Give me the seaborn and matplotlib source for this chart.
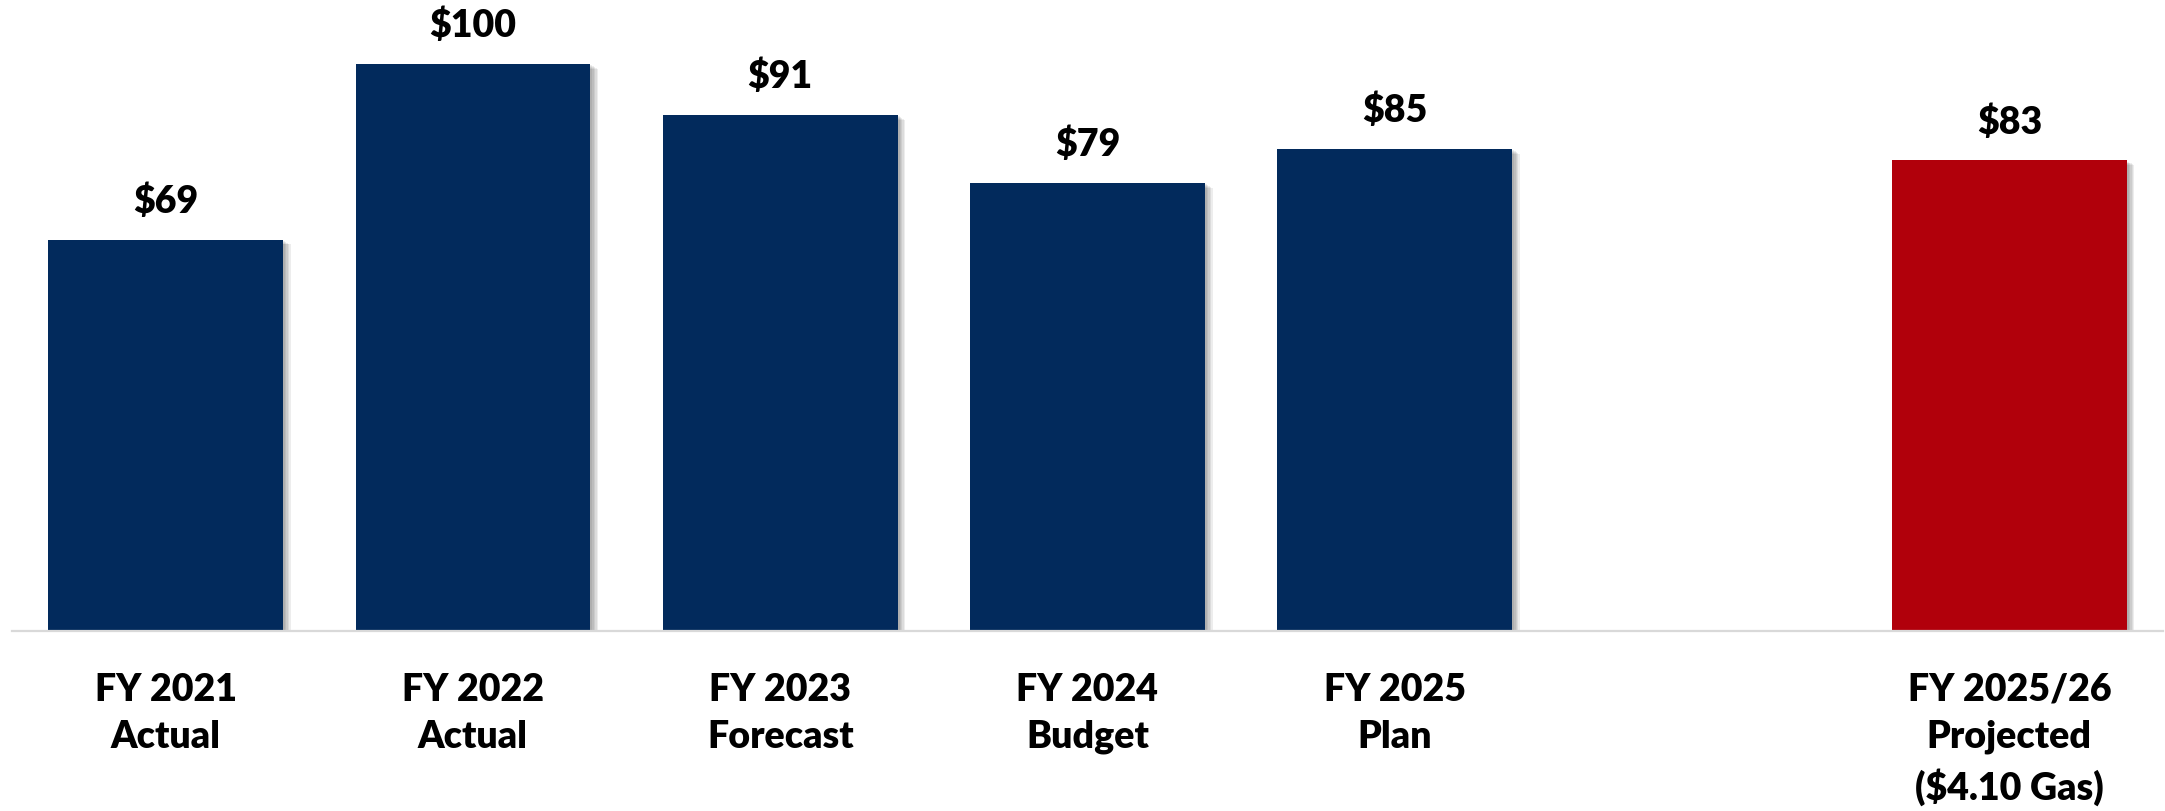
import matplotlib
matplotlib.use("Agg")
import matplotlib.pyplot as plt
import matplotlib.patheffects as pe
import seaborn as sns
import pandas as pd

# Fiscal-year values (USD)
categories = ["FY 2021\nActual", "FY 2022\nActual", "FY 2023\nForecast",
              "FY 2024\nBudget", "FY 2025\nPlan", "FY 2025/26\nProjected\n($4.10 Gas)"]
values = [69, 100, 91, 79, 85, 83]
slot_order = categories[:5] + [" "] + categories[5:]
bar_colors = ["#022A5C", "#022A5C", "#022A5C", "#022A5C", "#022A5C", "#B1000B"]

df = pd.DataFrame({"period": categories, "value": values})
palette = dict(zip(categories, bar_colors))

sns.set_theme(style="white")
plt.rcParams["font.family"] = ["Lato", "DejaVu Sans"]
WEIGHT = "heavy"

fig = plt.figure(figsize=(21.65, 8.11), dpi=100)
ax = fig.add_axes([12 / 2165, (811 - 631) / 811, (2163 - 12) / 2165, 631 / 811])

sns.barplot(data=df, x="period", y="value", hue="period", order=slot_order,
            palette=palette, width=0.764, legend=False, saturation=1,
            linewidth=0, ax=ax)

# soft drop shadow on the bars
shadow = [pe.SimplePatchShadow(offset=(d, -d * 0.6), shadow_rgbFace="#000000", alpha=0.07)
          for d in (1.5, 2.5, 3.5, 4.5, 5.5)]
for patch in ax.patches:
    patch.set_path_effects(shadow + [pe.Normal()])

# value labels
for cont in ax.containers:
    ax.bar_label(cont, labels=[f"${v:.0f}" if v == v else "" for v in cont.datavalues],
                 padding=15, fontsize=27, fontweight=WEIGHT, color="black")

ax.set_xlim(-0.5, 6.5)
ax.set_ylim(0, 111.3)
ax.set_xlabel("")
ax.set_ylabel("")
ax.set_yticks([])
for s in ["top", "right", "left"]:
    ax.spines[s].set_visible(False)
ax.spines["bottom"].set_color("#D9D9D9")
ax.spines["bottom"].set_linewidth(1.6)
ax.tick_params(axis="x", length=0, pad=30)
for lbl in ax.get_xticklabels():
    lbl.set_fontsize(27)
    lbl.set_fontweight(WEIGHT)
    lbl.set_color("black")
    lbl.set_linespacing(1.46)
    lbl.set_verticalalignment("top")

fig.savefig("out.png", dpi=100, facecolor="white")
